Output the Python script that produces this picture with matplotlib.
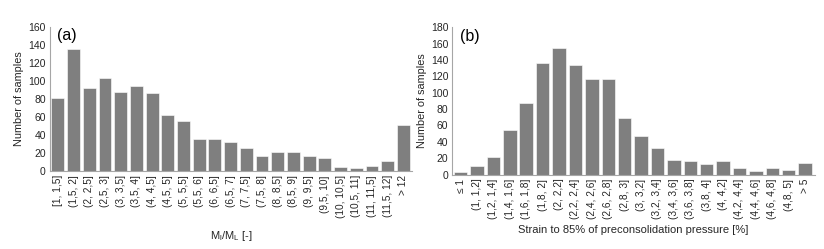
import matplotlib
matplotlib.use("Agg")
import matplotlib.pyplot as plt

plt.rcParams['font.family'] = ['Liberation Sans', 'DejaVu Sans']
plt.rcParams['mathtext.fontset'] = 'custom'
plt.rcParams['mathtext.rm'] = 'Liberation Sans'
plt.rcParams['mathtext.it'] = 'Liberation Sans'

# panel (a): Ml/ML classes
cats_a = ["[1, 1,5]", "(1,5, 2]", "(2, 2,5]", "(2,5, 3]", "(3, 3,5]", "(3,5, 4]",
          "(4, 4,5]", "(4,5, 5]", "(5, 5,5]", "(5,5, 6]", "(6, 6,5]", "(6,5, 7]",
          "(7, 7,5]", "(7,5, 8]", "(8, 8,5]", "(8,5, 9]", "(9, 9,5]", "(9,5, 10]",
          "(10, 10,5]", "(10,5, 11]", "(11, 11,5]", "(11,5, 12]", "> 12"]
vals_a = [81, 135, 92, 103, 88, 94, 87, 62, 55, 36, 35, 32, 25, 17, 21, 21, 17,
          15, 4, 3, 6, 11, 51]

# panel (b): strain to 85% of preconsolidation pressure
cats_b = ["\u2264 1", "(1, 1,2]", "(1,2, 1,4]", "(1,4, 1,6]", "(1,6, 1,8]", "(1,8, 2]",
          "(2, 2,2]", "(2,2, 2,4]", "(2,4, 2,6]", "(2,6, 2,8]", "(2,8, 3]", "(3, 3,2]",
          "(3,2, 3,4]", "(3,4, 3,6]", "(3,6, 3,8]", "(3,8, 4]", "(4, 4,2]", "(4,2, 4,4]",
          "(4,4, 4,6]", "(4,6, 4,8]", "(4,8, 5]", "> 5"]
vals_b = [3, 11, 21, 54, 87, 136, 155, 134, 117, 117, 69, 47, 32, 18, 16, 13, 16,
          8, 4, 8, 5, 14]

bar_col = '#7f7f7f'
spine_col = '#a6a6a6'
txt_col = '#262626'

fig = plt.figure(figsize=(8.24, 2.49), dpi=100)
ax1 = fig.add_axes([0.0607, 0.313, 0.4393, 0.58])
ax2 = fig.add_axes([0.549, 0.299, 0.44, 0.591])


def style(ax, cats, vals, ymax, xl, yl, tag, right, xpad):
    x = range(len(cats))
    ax.bar(x, vals, width=0.82, color=bar_col, edgecolor='white', linewidth=0.4)
    ax.set_xticks(list(x))
    ax.set_xticklabels(cats, rotation=90, fontsize=7.3, color=txt_col)
    ax.set_ylim(0, ymax)
    ax.set_yticks(range(0, ymax + 1, 20))
    ax.tick_params(axis='y', labelsize=7.5, colors=txt_col, length=0, pad=3)
    ax.tick_params(axis='x', length=0, pad=3)
    ax.set_xlim(-0.5, right)
    for s in ['top', 'right']:
        ax.spines[s].set_visible(False)
    for s in ['left', 'bottom']:
        ax.spines[s].set_color(spine_col)
        ax.spines[s].set_linewidth(0.8)
    ax.set_xlabel(xl, fontsize=8, color=txt_col, labelpad=xpad)
    ax.set_ylabel(yl, fontsize=7.8, color=txt_col, labelpad=3)
    ax.text(0.02, 0.99, tag, transform=ax.transAxes, fontsize=11.5,
            va='top', ha='left', color='black')


style(ax1, cats_a, vals_a, 160, r"$\mathregular{M_l/M_L}$ [-]",
      "Number of samples", "(a)", 22.55, 8)
style(ax2, cats_b, vals_b, 180, "Strain to 85% of preconsolidation pressure [%]",
      "Number of samples", "(b)", 21.6, 4)

fig.savefig("out.png", dpi=100)
